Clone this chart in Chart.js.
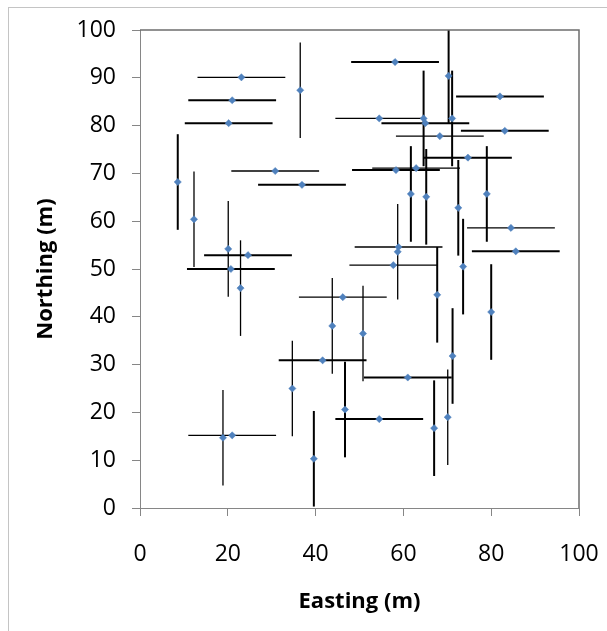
<!DOCTYPE html>
<html>
<head>
<meta charset="utf-8">
<script src="https://cdn.jsdelivr.net/npm/chart.js@4.4.0/dist/chart.umd.min.js"></script>
<style>
  html, body { margin: 0; padding: 0; background: #fff; overflow: hidden; }
  #frame { position: absolute; left: 8px; top: 7px; width: 660px; height: 660px;
           border-left: 1px solid #c4c4c4; border-top: 1px solid #c4c4c4; }
  #chart { position: absolute; left: 0; top: 0; }
</style>
</head>
<body>
<div id="frame"></div>
<canvas id="chart" width="607" height="631"></canvas>
<script>
// Survey points, error bars in metres (0 = no bar in that direction)
// Set A: heavy error bars
const eastingA  = [21.0, 20.2, 58.1, 70.3, 71.1, 64.6, 65.0, 82.0, 83.1, 74.7, 36.9, 8.6, 20.7, 24.6, 58.3,
                   61.7, 65.2, 72.5, 73.6, 85.6, 79.0, 80.0, 67.7, 61.0, 71.2, 41.6, 46.7, 54.5, 67.0, 39.6];
const northingA = [85.3, 80.5, 93.3, 90.4, 81.5, 81.5, 80.5, 86.1, 78.9, 73.3, 67.6, 68.2, 50.0, 52.9, 70.7,
                   65.7, 65.1, 62.8, 50.5, 53.7, 65.7, 41.0, 44.6, 27.3, 31.8, 30.9, 20.6, 18.6, 16.7, 10.3];
const eastErrA  = [10, 10, 10, 0, 0, 0, 10, 10, 10, 10, 10, 0, 10, 10, 10,
                   0, 0, 0, 0, 10, 0, 0, 0, 10, 0, 10, 0, 10, 0, 0];
const northErrA = [0, 0, 0, 10, 10, 10, 0, 0, 0, 0, 0, 10, 0, 0, 0,
                   10, 10, 10, 10, 0, 10, 10, 10, 0, 10, 0, 10, 0, 10, 10];

// Set B: light error bars
const eastingB  = [23.1, 36.5, 54.5, 68.3, 30.8, 12.3, 20.1, 22.9, 62.9, 84.5,
                   58.9, 58.7, 57.7, 46.2, 43.8, 50.8, 34.7, 70.1, 18.9, 21.0];
const northingB = [90.1, 87.4, 81.5, 77.8, 70.5, 60.4, 54.2, 46.0, 71.1, 58.6,
                   54.6, 53.6, 50.8, 44.1, 38.1, 36.5, 25.0, 19.0, 14.7, 15.2];
const eastErrB  = [10, 0, 10, 10, 10, 0, 0, 0, 10, 10,
                   10, 0, 10, 10, 0, 0, 0, 0, 0, 10];
const northErrB = [0, 10, 0, 0, 0, 10, 10, 10, 0, 0,
                   0, 10, 0, 0, 10, 10, 10, 10, 10, 0];

const xTicksStep = 20;
const yTicksStep = 10;

const FONT = "'Open Sans', 'DejaVu Sans', sans-serif";
const AXIS_GREY = '#868686';

function toPoints(xs, ys) {
  return xs.map((x, i) => ({ x: x, y: ys[i] }));
}

function errorBars(xs, ys, ex, ey, width) {
  const sets = [];
  xs.forEach((x, i) => {
    const y = ys[i];
    const segs = [];
    if (ex[i] > 0) segs.push([{ x: x - ex[i], y: y }, { x: x + ex[i], y: y }]);
    if (ey[i] > 0) segs.push([{ x: x, y: y - ey[i] }, { x: x, y: y + ey[i] }]);
    segs.forEach(seg => sets.push({
      data: seg,
      showLine: true,
      borderColor: '#000',
      borderWidth: width,
      pointRadius: 0,
      order: 2
    }));
  });
  return sets;
}

const markerStyle = {
  pointStyle: 'rectRot',
  pointRadius: 3.6,
  backgroundColor: '#4f81bd',
  borderColor: '#4f81bd',
  borderWidth: 0.5,
  order: 0
};

const plotFrame = {
  id: 'plotFrame',
  afterDraw(chart) {
    const { ctx, chartArea: a } = chart;
    ctx.save();
    ctx.strokeStyle = '#6e6e6e';
    ctx.lineWidth = 1.5;
    ctx.beginPath();
    ctx.moveTo(a.left, a.top);
    ctx.lineTo(a.right, a.top);
    ctx.lineTo(a.right, a.bottom);
    ctx.stroke();
    ctx.restore();
  }
};

new Chart(document.getElementById('chart'), {
  type: 'scatter',
  data: {
    datasets: [
      Object.assign({ label: 'A', data: toPoints(eastingA, northingA) }, markerStyle),
      Object.assign({ label: 'B', data: toPoints(eastingB, northingB) }, markerStyle),
      ...errorBars(eastingA, northingA, eastErrA, northErrA, 2),
      ...errorBars(eastingB, northingB, eastErrB, northErrB, 1.3)
    ]
  },
  options: {
    responsive: false,
    animation: false,
    devicePixelRatio: 1,
    events: [],
    layout: { padding: { top: 30, right: 28, left: 0, bottom: 0 } },
    plugins: {
      legend: { display: false },
      tooltip: { enabled: false }
    },
    scales: {
      x: {
        type: 'linear',
        min: 0,
        max: 100,
        ticks: { stepSize: xTicksStep, padding: 25, color: '#000', font: { family: FONT, size: 23 } },
        grid: { drawOnChartArea: false, drawTicks: true, tickLength: 8, color: AXIS_GREY },
        border: { color: AXIS_GREY },
        title: {
          display: true,
          text: 'Easting (m)',
          color: '#000',
          font: { family: FONT, size: 22, weight: 'bold' },
          padding: { top: 0, bottom: 16 }
        },
        afterFit(scale) {
          scale.height = 123;
          scale.paddingLeft = 0;
          scale.paddingRight = 0;
        }
      },
      y: {
        type: 'linear',
        min: 0,
        max: 100,
        ticks: { stepSize: yTicksStep, padding: 16, color: '#000', font: { family: FONT, size: 23 } },
        grid: { drawOnChartArea: false, drawTicks: true, tickLength: 8, color: AXIS_GREY },
        border: { color: AXIS_GREY },
        title: {
          display: true,
          text: 'Northing (m)',
          color: '#000',
          font: { family: FONT, size: 22, weight: 'bold' },
          padding: { top: 33, bottom: 0 }
        },
        afterFit(scale) {
          scale.width = 140;
          scale.paddingTop = 0;
          scale.paddingBottom = 0;
        }
      }
    }
  },
  plugins: [plotFrame]
});
</script>
</body>
</html>
